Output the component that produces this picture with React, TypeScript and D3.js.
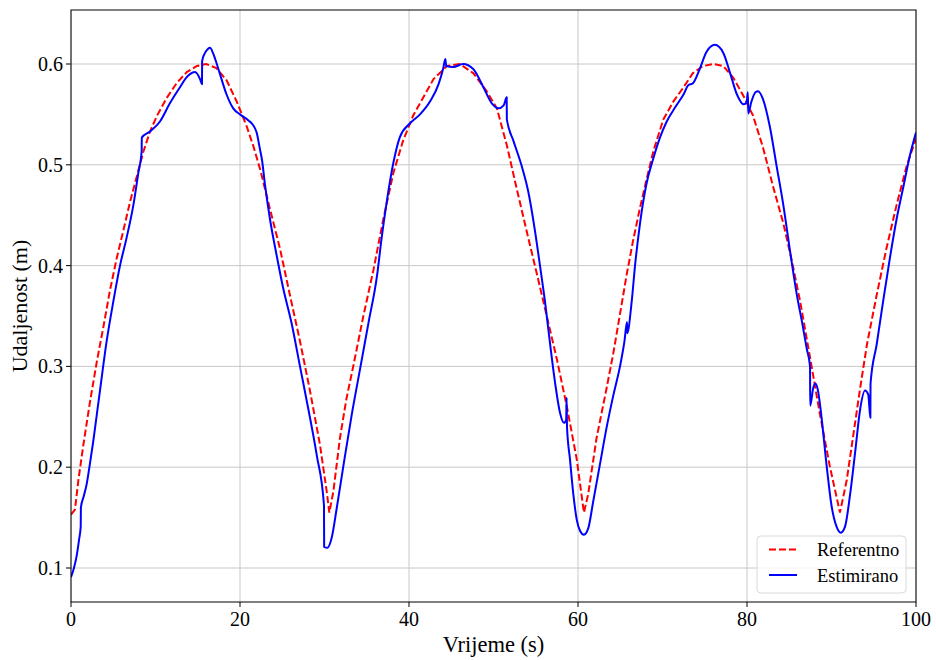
import React from "react";
import * as d3 from "d3";

const xTicks = [0, 20, 40, 60, 80, 100];
const yTicks = [0.1, 0.2, 0.3, 0.4, 0.5, 0.6];

const seriesNames = ["Referentno", "Estimirano"];

// Reference (red dashed)
const refT = [0, 0.47, 0.87, 1.46, 2.25, 3.04, 3.83, 4.6, 5.4, 6.2, 6.98, 7.77, 8.56, 9.35, 10.14, 11.3, 12.5, 13.7, 14.9, 16.0, 17.2, 18.4, 19.6, 20.8, 21.6, 22.4, 23.55, 24.73, 25.9, 27.1, 28.28, 29.47, 30.26, 30.57, 31.05, 31.83, 32.6, 33.4, 34.6, 35.8, 36.96, 38.15, 39.3, 40.5, 41.7, 42.9, 44.5, 46.0, 47.6, 49.2, 50.4, 51.56, 52.7, 53.9, 55.1, 56.3, 57.5, 58.66, 59.85, 60.7, 61.2, 62.2, 63.4, 64.2, 64.97, 65.76, 66.5, 67.3, 68.1, 68.9, 70.1, 71.3, 72.5, 73.6, 74.8, 76.0, 77.2, 78.4, 79.6, 80.7, 81.9, 83.1, 84.3, 85.3, 86.3, 87.5, 88.6, 89.8, 91.0, 91.8, 92.6, 93.4, 94.2, 95.35, 96.5, 97.7, 98.9, 100];
const refV = [0.153, 0.158, 0.187, 0.222, 0.265, 0.304, 0.339, 0.375, 0.407, 0.435, 0.463, 0.488, 0.513, 0.533, 0.548, 0.566, 0.581, 0.592, 0.598, 0.600, 0.596, 0.584, 0.563, 0.538, 0.518, 0.495, 0.456, 0.417, 0.371, 0.325, 0.276, 0.222, 0.176, 0.155, 0.176, 0.229, 0.268, 0.300, 0.350, 0.396, 0.446, 0.492, 0.524, 0.549, 0.567, 0.585, 0.598, 0.600, 0.591, 0.573, 0.556, 0.520, 0.478, 0.435, 0.393, 0.350, 0.307, 0.261, 0.208, 0.155, 0.173, 0.229, 0.279, 0.314, 0.352, 0.391, 0.424, 0.456, 0.485, 0.513, 0.545, 0.563, 0.577, 0.591, 0.598, 0.600, 0.598, 0.586, 0.568, 0.549, 0.517, 0.478, 0.442, 0.405, 0.364, 0.307, 0.254, 0.201, 0.155, 0.187, 0.233, 0.279, 0.322, 0.371, 0.417, 0.460, 0.499, 0.526];

// Estimated (blue solid)
const estT = [0, 0.35, 0.67, 0.95, 1.15, 1.17, 1.5, 1.85, 2.25, 2.64, 3.05, 3.43, 4.22, 5.0, 5.8, 6.59, 7.38, 7.97, 8.36, 8.38, 9.35, 10.53, 11.7, 12.9, 13.6, 14.08, 14.67, 15.27, 15.5, 15.52, 15.8, 16.1, 16.45, 16.8, 17.1, 17.63, 18.4, 19.2, 20.0, 21.0, 21.5, 21.97, 22.37, 22.6, 22.96, 23.55, 24.34, 25.1, 26.1, 27.1, 28.08, 29.08, 29.94, 29.96, 30.34, 30.85, 31.44, 32.23, 33.2, 34.2, 35.2, 36.2, 36.77, 37.36, 38.15, 38.9, 40.1, 41.3, 42.5, 43.5, 44.06, 44.3, 44.4, 45.25, 46.4, 47.6, 48.8, 49.8, 50.6, 51.2, 51.56, 51.58, 52.35, 53.33, 54.1, 54.9, 55.5, 56.1, 56.7, 57.3, 57.87, 58.34, 58.6, 58.65, 58.7, 59.05, 59.45, 59.85, 60.24, 60.7, 61.2, 61.8, 62.6, 63.4, 64.2, 64.97, 65.5, 65.8, 65.82, 66.35, 66.75, 67.34, 68.1, 68.9, 69.7, 70.5, 71.5, 72.5, 73.05, 73.6, 74.4, 75.2, 76.2, 77.2, 78.0, 78.8, 79.6, 79.95, 80.1, 80.15, 80.5, 81.0, 81.3, 81.9, 82.7, 83.5, 84.3, 85.1, 85.9, 86.6, 87.06, 87.46, 87.48, 87.85, 88.1, 88.4, 88.8, 89.43, 90.0, 90.6, 91.1, 91.6, 92.2, 92.8, 93.4, 93.96, 94.35, 94.6, 94.62, 95.35, 96.1, 96.9, 97.7, 98.5, 99.3, 100];
const estV = [0.091, 0.100, 0.112, 0.128, 0.141, 0.160, 0.171, 0.183, 0.204, 0.226, 0.252, 0.276, 0.325, 0.364, 0.400, 0.428, 0.460, 0.492, 0.513, 0.527, 0.533, 0.543, 0.561, 0.577, 0.586, 0.590, 0.592, 0.585, 0.580, 0.603, 0.610, 0.614, 0.616, 0.611, 0.604, 0.590, 0.570, 0.556, 0.550, 0.544, 0.540, 0.532, 0.515, 0.505, 0.480, 0.446, 0.410, 0.378, 0.343, 0.300, 0.258, 0.212, 0.162, 0.121, 0.120, 0.130, 0.159, 0.201, 0.251, 0.297, 0.343, 0.389, 0.428, 0.463, 0.502, 0.527, 0.541, 0.550, 0.563, 0.580, 0.596, 0.605, 0.598, 0.597, 0.600, 0.595, 0.577, 0.561, 0.556, 0.559, 0.567, 0.545, 0.524, 0.499, 0.474, 0.435, 0.400, 0.364, 0.322, 0.283, 0.254, 0.244, 0.247, 0.269, 0.240, 0.208, 0.173, 0.148, 0.137, 0.133, 0.139, 0.166, 0.203, 0.240, 0.272, 0.300, 0.325, 0.344, 0.333, 0.364, 0.400, 0.442, 0.481, 0.506, 0.527, 0.543, 0.557, 0.570, 0.579, 0.581, 0.595, 0.612, 0.619, 0.611, 0.591, 0.570, 0.560, 0.562, 0.572, 0.551, 0.562, 0.572, 0.573, 0.565, 0.538, 0.499, 0.460, 0.414, 0.371, 0.340, 0.318, 0.300, 0.261, 0.279, 0.283, 0.276, 0.251, 0.201, 0.162, 0.141, 0.135, 0.141, 0.173, 0.215, 0.258, 0.276, 0.272, 0.249, 0.283, 0.322, 0.364, 0.407, 0.446, 0.478, 0.510, 0.532];

const W = 936;
const H = 660;
const M = { left: 71, right: 916, top: 10, bottom: 602 };
const FONT = "'Liberation Serif', 'Times New Roman', 'DejaVu Serif', serif";

export default function App() {
  const x = d3.scaleLinear().domain([0, 100]).range([M.left, M.right]);
  const y = d3.scaleLinear().domain([0.1, 0.6]).range([568, 64]);

  const refData = refT.map((t, i) => [t, refV[i]] as [number, number]);
  const estData = estT.map((t, i) => [t, estV[i]] as [number, number]);

  const refLine = d3
    .line<[number, number]>()
    .x((d) => x(d[0]))
    .y((d) => y(d[1]))
    .curve(d3.curveLinear);
  const estLine = d3
    .line<[number, number]>()
    .x((d) => x(d[0]))
    .y((d) => y(d[1]))
    .curve(d3.curveMonotoneX);

  return (
    <svg
      width={W}
      height={H}
      style={{ position: "absolute", left: 0, top: 0, background: "#fff" }}
      fontFamily={FONT}
    >
      <defs>
        <clipPath id="plot">
          <rect x={M.left} y={M.top} width={M.right - M.left} height={M.bottom - M.top} />
        </clipPath>
      </defs>
      <rect x={0} y={0} width={W} height={H} fill="#fff" />
      {/* grid */}
      {xTicks.map((t) => (
        <line key={"gx" + t} x1={x(t)} x2={x(t)} y1={M.top} y2={M.bottom} stroke="#c8c8c8" strokeWidth={1} />
      ))}
      {yTicks.map((t) => (
        <line key={"gy" + t} x1={M.left} x2={M.right} y1={y(t)} y2={y(t)} stroke="#c8c8c8" strokeWidth={1} />
      ))}
      {/* lines */}
      <g clipPath="url(#plot)">
        <path d={refLine(refData) || ""} fill="none" stroke="#ff0000" strokeWidth={2} strokeDasharray="7,3" />
        <path d={estLine(estData) || ""} fill="none" stroke="#0000ff" strokeWidth={2} strokeLinejoin="round" />
      </g>
      {/* frame */}
      <rect
        x={M.left}
        y={M.top}
        width={M.right - M.left}
        height={M.bottom - M.top}
        fill="none"
        stroke="#000"
        strokeWidth={1}
      />
      {/* x ticks */}
      {xTicks.map((t) => (
        <g key={"xt" + t}>
          <line x1={x(t)} x2={x(t)} y1={M.bottom} y2={M.bottom + 5} stroke="#000" strokeWidth={1} />
          <text x={x(t)} y={626} textAnchor="middle" fontSize={20} fill="#000">
            {t}
          </text>
        </g>
      ))}
      {/* y ticks */}
      {yTicks.map((t) => (
        <g key={"yt" + t}>
          <line x1={M.left - 5} x2={M.left} y1={y(t)} y2={y(t)} stroke="#000" strokeWidth={1} />
          <text x={M.left - 8} y={y(t) + 7} textAnchor="end" fontSize={20} fill="#000">
            {t.toFixed(1)}
          </text>
        </g>
      ))}
      {/* axis labels */}
      <text x={(M.left + M.right) / 2} y={652} textAnchor="middle" fontSize={22.5} fill="#000">
        Vrijeme (s)
      </text>
      <text
        transform={`translate(27, ${(M.top + M.bottom) / 2}) rotate(-90)`}
        textAnchor="middle"
        fontSize={22}
        fill="#000"
      >
        Udaljenost (m)
      </text>
      {/* legend */}
      <g>
        <rect x={757} y={536} width={149} height={57} rx={4} fill="#fff" fillOpacity={0.8} stroke="#d9d9d9" strokeWidth={1} />
        <line x1={769} x2={797} y1={549.5} y2={549.5} stroke="#ff0000" strokeWidth={2} strokeDasharray="7,3" />
        <text x={817} y={556} fontSize={18.5} fill="#000">
          {seriesNames[0]}
        </text>
        <line x1={769} x2={797} y1={575} y2={575} stroke="#0000ff" strokeWidth={2} />
        <text x={817} y={582} fontSize={18.5} fill="#000">
          {seriesNames[1]}
        </text>
      </g>
    </svg>
  );
}
